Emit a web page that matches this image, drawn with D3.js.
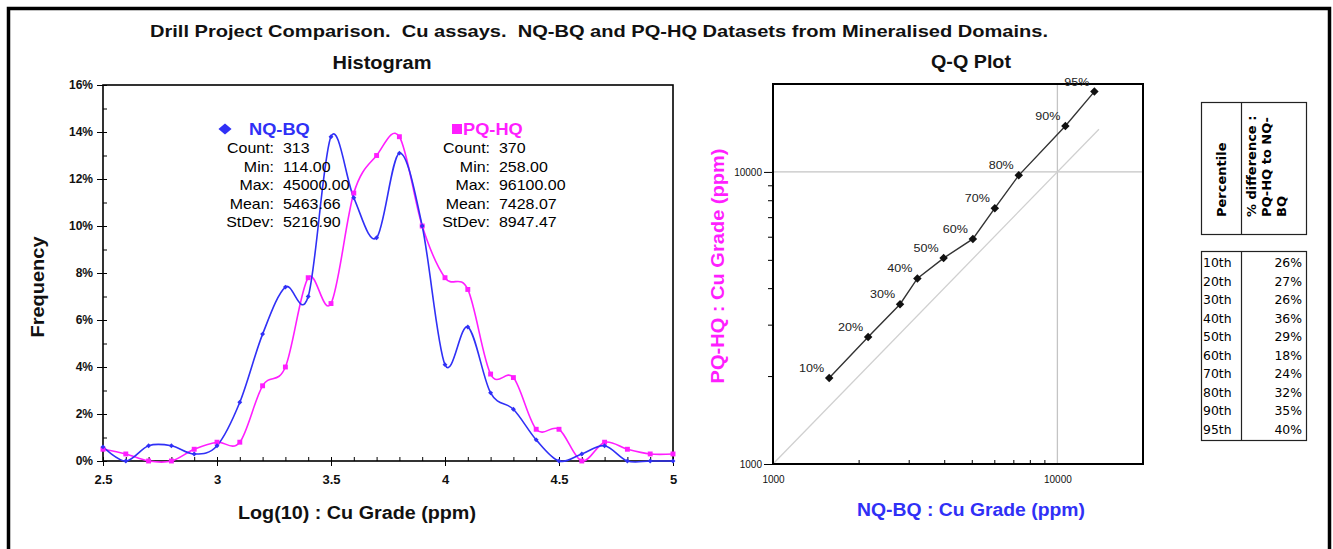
<!doctype html>
<html>
<head>
<meta charset="UTF-8">
<script src="https://cdn.jsdelivr.net/npm/d3@7"></script>
<style>
  body { margin: 0; background: #fff; }
  text { font-family: "Liberation Sans", Arial, sans-serif; white-space: pre; }
</style>
</head>
<body>
<script>
// ---- data ----
const binCentres = [2.5, 2.6, 2.7, 2.8, 2.9, 3.0, 3.1, 3.2, 3.3, 3.4, 3.5, 3.6, 3.7,
                    3.8, 3.9, 4.0, 4.1, 4.2, 4.3, 4.4, 4.5, 4.6, 4.7, 4.8, 4.9, 5.0];
const nqbqFreq = [0.6, 0, 0.65, 0.65, 0.3, 0.65, 2.5, 5.4, 7.4, 7.0, 13.8, 11.2, 9.5,
                  13.1, 10.0, 4.1, 5.7, 2.9, 2.2, 0.9, 0, 0.3, 0.65, 0, 0, 0];
const pqhqFreq = [0.5, 0.3, 0, 0, 0.5, 0.8, 0.8, 3.2, 4.0, 7.8, 6.7, 11.4, 13.0,
                  13.8, 10.0, 7.8, 7.3, 3.7, 3.55, 1.35, 1.35, 0, 0.8, 0.5, 0.3, 0.3];
const freqTicks = [0, 2, 4, 6, 8, 10, 12, 14, 16];
const gradeTicks = [2.5, 3, 3.5, 4, 4.5, 5];

const statNames = ["Count:", "Min:", "Max:", "Mean:", "StDev:"];
const nqbqStats = ["313", "114.00", "45000.00", "5463.66", "5216.90"];
const pqhqStats = ["370", "258.00", "96100.00", "7428.07", "8947.47"];

const percentiles = ["10%", "20%", "30%", "40%", "50%", "60%", "70%", "80%", "90%", "95%"];
const nqbqQuantiles = [1576, 2160, 2797, 3219, 3981, 5045, 6026, 7315, 10666, 13490];
const pqhqQuantiles = [1971, 2720, 3524, 4319, 5070, 5897, 7516, 9735, 14360, 18840];
const qqMajorTicks = [1000, 10000];
const qqMinorTicks = [2000, 3000, 4000, 5000, 6000, 7000, 8000, 9000];
const oneToOne = [1000, 14000];

const tablePercentiles = ["10th", "20th", "30th", "40th", "50th", "60th", "70th", "80th", "90th", "95th"];
const tableDiff = ["26%", "27%", "26%", "36%", "29%", "18%", "24%", "32%", "35%", "40%"];

// ---- drawing ----
const W = 1333, Hgt = 549, SX = 1.14;
const blue = "#3030f6", magenta = "#ff1eff";

const svg = d3.select("body").append("svg")
  .attr("width", W).attr("height", Hgt);

function addText(parent, x, y, str, o) {
  o = o || {};
  let tr = "translate(" + x + "," + y + ")";
  if (o.rotate) tr += " rotate(" + o.rotate + ")";
  if (!o.width) tr += " scale(" + (o.sx || SX) + ",1)";
  const t = parent.append("text")
    .attr("transform", tr)
    .attr("font-size", o.size || 14)
    .attr("font-weight", o.weight || "normal")
    .attr("text-anchor", o.anchor || "start")
    .attr("fill", o.fill || "#000")
    .text(str);
  if (o.family) t.style("font-family", o.family);
  if (o.width) t.attr("textLength", o.width).attr("lengthAdjust", "spacingAndGlyphs");
  return t;
}

// small rotated square, like the spreadsheet diamond marker
const diamond = size => d3.symbol(d3.symbolSquare, size);

// outer frame
svg.append("rect")
  .attr("x", 8.5).attr("y", 8.5).attr("width", 1321).attr("height", 560)
  .attr("fill", "none").attr("stroke", "#000").attr("stroke-width", 3.5);

addText(svg, 599, 37, "Drill Project Comparison.  Cu assays.  NQ-BQ and PQ-HQ Datasets from Mineralised Domains.",
  {size: 17, weight: "bold", anchor: "middle", width: 898, fill: "#111"});

// ===== histogram =====
const H = {left: 103, right: 673, top: 85, bottom: 461};
const x = d3.scaleLinear().domain([2.5, 5]).range([H.left, H.right]);
const y = d3.scaleLinear().domain([0, 16]).range([H.bottom, H.top]);

addText(svg, 382, 69, "Histogram", {size: 18, weight: "bold", anchor: "middle", width: 99, fill: "#111"});
addText(svg, 44, 287, "Frequency", {size: 18, weight: "bold", anchor: "middle", rotate: -90, width: 101, fill: "#111"});
addText(svg, 357, 519, "Log(10) : Cu Grade (ppm)", {size: 18, weight: "bold", anchor: "middle", width: 238, fill: "#111"});

svg.append("defs").append("clipPath").attr("id", "histClip")
  .append("rect").attr("x", H.left).attr("y", H.top - 2)
  .attr("width", H.right - H.left).attr("height", H.bottom - H.top + 4);

// y axis: major ticks crossing, minor inside
svg.append("g")
  .attr("transform", "translate(" + H.left + ",0)")
  .call(d3.axisLeft(y).tickValues(freqTicks).tickSize(6).tickPadding(4).tickFormat(d => d + "%"))
  .call(g => g.select(".domain").remove())
  .call(g => g.selectAll("text").attr("font-size", 12).attr("font-family", "Liberation Sans")
    .attr("fill", "#111").attr("font-weight", "bold"));
svg.append("g")
  .attr("transform", "translate(" + H.left + ",0)")
  .call(d3.axisRight(y).tickValues(d3.range(0, 17)).tickSize(4).tickFormat(""))
  .call(g => g.select(".domain").remove());

// x axis
svg.append("g")
  .attr("transform", "translate(0," + H.bottom + ")")
  .call(d3.axisBottom(x).tickValues(gradeTicks).tickSize(5).tickPadding(9).tickFormat(d3.format("")))
  .call(g => g.select(".domain").remove())
  .call(g => g.selectAll("text").attr("font-size", 13).attr("font-family", "Liberation Sans")
    .attr("fill", "#111").attr("font-weight", "bold"));
svg.append("g")
  .attr("transform", "translate(0," + H.bottom + ")")
  .call(d3.axisTop(x).tickValues(binCentres).tickSize(4).tickFormat(""))
  .call(g => g.select(".domain").remove());

svg.append("rect")
  .attr("x", H.left).attr("y", H.top)
  .attr("width", H.right - H.left).attr("height", H.bottom - H.top)
  .attr("fill", "none").attr("stroke", "#000").attr("stroke-width", 1.6);

const freqLine = d3.line()
  .x((d, i) => x(binCentres[i]))
  .y(d => y(d))
  .curve(d3.curveCardinal.tension(0));

const plot = svg.append("g").attr("clip-path", "url(#histClip)");

plot.append("path").datum(pqhqFreq)
  .attr("d", freqLine).attr("fill", "none").attr("stroke", magenta).attr("stroke-width", 1.6);
plot.append("path").datum(nqbqFreq)
  .attr("d", freqLine).attr("fill", "none").attr("stroke", blue).attr("stroke-width", 1.6);

svg.append("g").selectAll("path")
  .data(pqhqFreq).enter().append("path")
  .attr("transform", (d, i) => "translate(" + x(binCentres[i]) + "," + y(d) + ")")
  .attr("d", d3.symbol(d3.symbolSquare, 24))
  .attr("fill", magenta);
svg.append("g").selectAll("path")
  .data(nqbqFreq).enter().append("path")
  .attr("transform", (d, i) => "translate(" + x(binCentres[i]) + "," + y(d) + ") rotate(45)")
  .attr("d", diamond(12))
  .attr("fill", blue);

// legend / stats blocks
svg.append("path")
  .attr("transform", "translate(225,129) scale(1.2,1) rotate(45)")
  .attr("d", diamond(60)).attr("fill", blue);
addText(svg, 249, 135, "NQ-BQ", {size: 16, weight: "bold", fill: blue});
svg.append("rect").attr("x", 452).attr("y", 124).attr("width", 10).attr("height", 10).attr("fill", magenta);
addText(svg, 463, 135, "PQ-HQ", {size: 16, weight: "bold", fill: magenta});

statNames.forEach((s, i) => {
  const yy = 153 + i * 18.6;
  addText(svg, 274, yy, s, {size: 14, anchor: "end"});
  addText(svg, 283, yy, nqbqStats[i], {size: 14});
  addText(svg, 490, yy, s, {size: 14, anchor: "end"});
  addText(svg, 499, yy, pqhqStats[i], {size: 14});
});

// ===== Q-Q plot =====
const Q = {left: 773, right: 1143, top: 84, bottom: 464};
const qx = d3.scaleLog().domain([1000, 20000]).range([Q.left, Q.right]);
const qy = d3.scaleLog().domain([1000, 20000]).range([Q.bottom, Q.top]);

addText(svg, 971, 68, "Q-Q Plot", {size: 18, weight: "bold", anchor: "middle", width: 80, fill: "#111"});
addText(svg, 971, 516, "NQ-BQ : Cu Grade (ppm)", {size: 18, weight: "bold", anchor: "middle", width: 228, fill: blue});
addText(svg, 724, 266, "PQ-HQ : Cu Grade (ppm)", {size: 18, weight: "bold", anchor: "middle", rotate: -90, width: 235, fill: magenta});

// grid at 10000
svg.append("line")
  .attr("x1", qx(10000)).attr("x2", qx(10000)).attr("y1", Q.top).attr("y2", Q.bottom)
  .attr("stroke", "#c4c4c4").attr("stroke-width", 1.3);
svg.append("line")
  .attr("x1", Q.left).attr("x2", Q.right).attr("y1", qy(10000)).attr("y2", qy(10000))
  .attr("stroke", "#c4c4c4").attr("stroke-width", 1.3);
// 1:1 line
svg.append("line")
  .attr("x1", qx(oneToOne[0])).attr("y1", qy(oneToOne[0]))
  .attr("x2", qx(oneToOne[1])).attr("y2", qy(oneToOne[1]))
  .attr("stroke", "#d0d0d0").attr("stroke-width", 1.3);

svg.append("g")
  .attr("transform", "translate(" + Q.left + ",0)")
  .call(d3.axisLeft(qy).tickValues(qqMajorTicks).tickSize(9).tickPadding(2).tickFormat(d3.format("d")))
  .call(g => g.select(".domain").remove())
  .call(g => g.selectAll("text").attr("font-size", 10).attr("font-family", "Liberation Sans").attr("fill", "#111"));
svg.append("g")
  .attr("transform", "translate(" + Q.left + ",0)")
  .call(d3.axisLeft(qy).tickValues(qqMinorTicks).tickSize(5).tickFormat(""))
  .call(g => g.select(".domain").remove());
svg.append("g")
  .attr("transform", "translate(0," + Q.bottom + ")")
  .call(d3.axisBottom(qx).tickValues(qqMajorTicks).tickSize(0).tickPadding(12).tickFormat(d3.format("d")))
  .call(g => g.select(".domain").remove())
  .call(g => g.selectAll("text").attr("font-size", 10).attr("font-family", "Liberation Sans").attr("fill", "#111"));
svg.append("g")
  .attr("transform", "translate(0," + Q.bottom + ")")
  .call(d3.axisTop(qx).tickValues(qqMinorTicks).tickSize(4).tickFormat(""))
  .call(g => g.select(".domain").remove());

svg.append("rect")
  .attr("x", Q.left).attr("y", Q.top)
  .attr("width", Q.right - Q.left).attr("height", Q.bottom - Q.top)
  .attr("fill", "none").attr("stroke", "#000").attr("stroke-width", 2);

svg.append("path").datum(nqbqQuantiles)
  .attr("d", d3.line().x(d => qx(d)).y((d, i) => qy(pqhqQuantiles[i])))
  .attr("fill", "none").attr("stroke", "#333").attr("stroke-width", 1.4);

svg.append("g").selectAll("path")
  .data(nqbqQuantiles).enter().append("path")
  .attr("transform", (d, i) => "translate(" + qx(d) + "," + qy(pqhqQuantiles[i]) + ") rotate(45)")
  .attr("d", diamond(36))
  .attr("fill", "#111");

nqbqQuantiles.forEach((d, i) => {
  addText(svg, qx(d) - 5, qy(pqhqQuantiles[i]) - 6, percentiles[i], {size: 11, anchor: "end", fill: "#222"});
});

// ===== table =====
const T = {left: 1201, right: 1306, mid: 1241, hTop: 102, hBottom: 234, bTop: 251, bBottom: 440};

svg.append("defs").append("clipPath").attr("id", "headClip")
  .append("rect").attr("x", T.left).attr("y", T.hTop)
  .attr("width", T.right - T.left).attr("height", T.hBottom - T.hTop);

[[T.hTop, T.hBottom], [T.bTop, T.bBottom]].forEach(b => {
  svg.append("rect")
    .attr("x", T.left + 0.5).attr("y", b[0] + 0.5)
    .attr("width", T.right - T.left).attr("height", b[1] - b[0])
    .attr("fill", "none").attr("stroke", "#222").attr("stroke-width", 1.2);
  svg.append("line")
    .attr("x1", T.mid + 0.5).attr("x2", T.mid + 0.5).attr("y1", b[0]).attr("y2", b[1])
    .attr("stroke", "#222").attr("stroke-width", 1.2);
});

const head = svg.append("g").attr("clip-path", "url(#headClip)");
addText(head, 1226, 217, "Percentile", {size: 13, weight: "bold", rotate: -90, family: "DejaVu Sans", sx: 1});
["% difference :", "PQ-HQ to NQ-", "BQ"].forEach((s, i) => {
  addText(head, 1256 + i * 15, 217, s, {size: 13, weight: "bold", rotate: -90, family: "DejaVu Sans", sx: 1});
});

tablePercentiles.forEach((p, i) => {
  const yy = 267 + i * 18.5;
  addText(svg, 1203, yy, p, {size: 11.5, family: "DejaVu Sans", sx: 1.08});
  addText(svg, 1302, yy, tableDiff[i], {size: 11.5, anchor: "end", family: "DejaVu Sans", sx: 1.08});
});
</script>
</body>
</html>
